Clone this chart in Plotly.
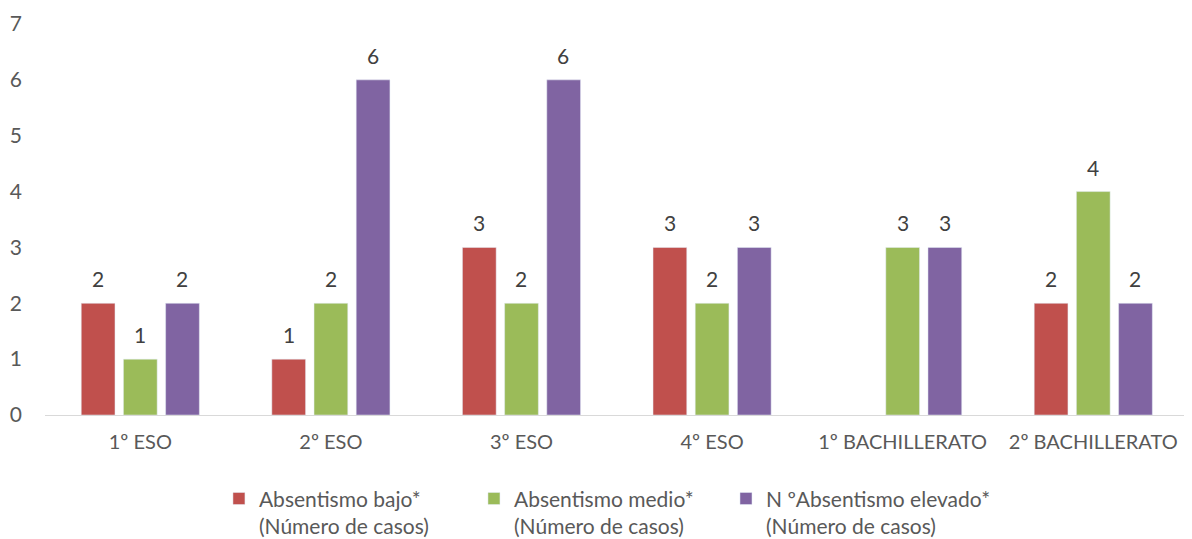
import plotly.graph_objects as go

categories = ["1º ESO", "2º ESO", "3º ESO", "4º ESO", "1º BACHILLERATO", "2º BACHILLERATO"]
bajo = [2, 1, 3, 3, None, 2]
medio = [1, 2, 2, 2, 3, 4]
elevado = [2, 6, 6, 3, 3, 2]

series = [
    ("Absentismo bajo*<br>(Número de casos)", bajo, "#C0504D", "legend"),
    ("Absentismo medio*<br>(Número de casos)", medio, "#9BBB59", "legend2"),
    ("N ºAbsentismo elevado*<br>(Número de casos)", elevado, "#8064A2", "legend3"),
]

fig = go.Figure()
for name, values, color, leg in series:
    fig.add_trace(go.Bar(x=categories, y=values, name=name, marker_color=color, legend=leg))

# value labels sit a bit above each bar, like the original
offsets = [-42, 0, 42]
for (name, values, color, leg), dx in zip(series, offsets):
    for cat, v in zip(categories, values):
        if v is None:
            continue
        fig.add_annotation(
            x=cat, y=v, text=str(v), showarrow=False,
            xshift=dx, yshift=10, yanchor="bottom",
            font=dict(size=21, color="#404040"),
        )

# one legend per series so each entry lands where the original has it
legend_style = dict(
    orientation="h", xanchor="left", y=-0.162, yanchor="top", valign="top",
    font=dict(size=21, color="#595959"), itemwidth=30, bgcolor="rgba(0,0,0,0)",
)

fig.update_layout(
    width=1192,
    height=539,
    margin=dict(l=37, r=0, t=16, b=132),
    plot_bgcolor="white",
    paper_bgcolor="white",
    font=dict(family="Lato, Calibri, sans-serif", size=21, color="#595959"),
    barmode="group",
    bargap=0.336,
    bargroupgap=0.2,
    showlegend=True,
    legend=dict(x=0.1506, **legend_style),
    legend2=dict(x=0.3714, **legend_style),
    legend3=dict(x=0.5896, **legend_style),
    xaxis=dict(
        range=[-0.5, 5.56],
        showline=True,
        linecolor="#D9D9D9",
        linewidth=1,
        ticks="",
        showgrid=False,
        tickfont=dict(size=20),
        ticklabelstandoff=9,
        automargin=False,
    ),
    yaxis=dict(
        range=[0, 7],
        dtick=1,
        showgrid=False,
        zeroline=False,
        showline=False,
        ticks="",
        ticklabelstandoff=22,
        automargin=False,
    ),
)

fig.write_html("out.html")
